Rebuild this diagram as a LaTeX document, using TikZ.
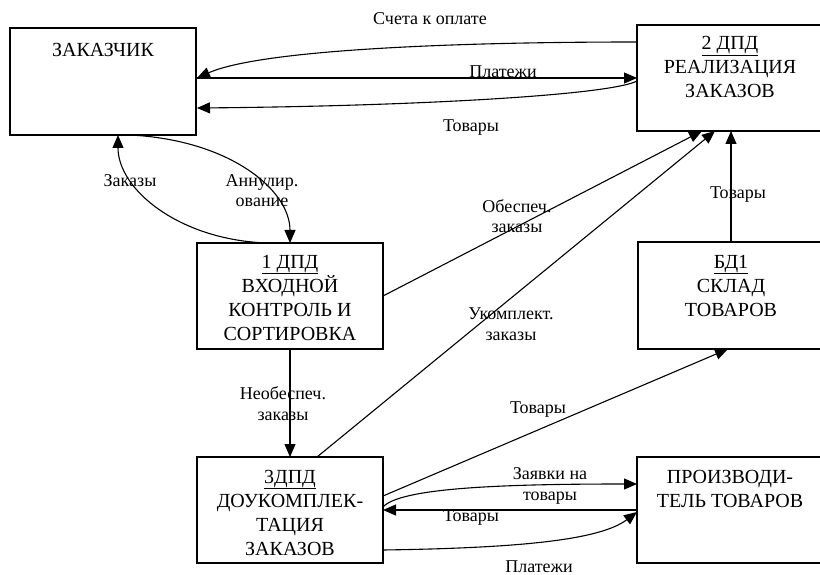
\documentclass[tikz,border=0pt]{standalone}
\usepackage{fontspec}
\setmainfont{Liberation Serif}
\usetikzlibrary{arrows.meta,calc}

\begin{document}
\begin{tikzpicture}[x=1pt,y=-1pt,
  box/.style={draw, line width=1.2pt, minimum width=186pt, inner sep=0pt,
    outer sep=0pt, anchor=north west},
  % multi-line captions are placed by the baseline of their last line
  boxtext/.style={anchor=base, align=center, inner sep=0pt,
    font=\fontsize{20}{24}\selectfont},
  lbl/.style={anchor=base, align=center, inner sep=0pt,
    font=\fontsize{18}{20.5}\selectfont},
  flow/.style={line width=1.1pt, -{Triangle[length=13pt,width=11pt]}}
]
\useasboundingbox (0,0) rectangle (820,575);

% process, store and external-entity boxes
\node[box, minimum height=107pt] (zak)   at (10,28)   {};
\node[box, minimum height=106pt] (real)  at (637,25)  {};
\node[box, minimum height=106pt] (ent)   at (197,243) {};
\node[box, minimum height=107pt] (sklad) at (638,242) {};
\node[box, minimum height=106pt] (comp)  at (197,457) {};
\node[box, minimum height=106pt] (prod)  at (637,457) {};

% box captions
\node[boxtext] (zakT)   at ($(zak.north)+(0,29)$)   {ЗАКАЗЧИК};
\node[boxtext] (realT)  at ($(real.north)+(0,73)$)  {\underline{2 ДПД}\\РЕАЛИЗАЦИЯ\\ЗАКАЗОВ};
\node[boxtext] (entT)   at ($(ent.north)+(0,97)$)   {\underline{1 ДПД}\\ВХОДНОЙ\\КОНТРОЛЬ И\\СОРТИРОВКА};
\node[boxtext] (skladT) at ($(sklad.north)+(0,74)$) {\underline{БД1}\\СКЛАД\\ТОВАРОВ};
\node[boxtext] (compT)  at ($(comp.north)+(0,98)$)  {\underline{3ДПД}\\ДОУКОМПЛЕК-\\ТАЦИЯ\\ЗАКАЗОВ};
\node[boxtext] (prodT)  at ($(prod.north)+(0,50)$)  {ПРОИЗВОДИ-\\ТЕЛЬ ТОВАРОВ};

% flows between the customer and order fulfilment
\draw[flow] ($(real.north west)+(0,17)$) .. controls +(-187,0) and +(63,-28) .. ($(zak.north east)+(1,50)$);
\draw[flow] ($(zak.north east)+(0,50)$) -- ($(real.north west)+(0,53)$);
\draw[flow] ($(real.north west)+(0,56)$) .. controls +(-27,14) and +(223,-2) .. ($(zak.north east)+(1,80)$);

% customer <-> input control
\draw[flow] ($(ent.north west)+(70,0)$) .. controls +(-87,-3) and +(0,55) .. ($(zak.south west)+(108,0)$);
\draw[flow] ($(zak.south west)+(120,0)$) .. controls +(100,5) and +(0,-53) .. (ent.north);

% flows into order fulfilment
\draw[flow] (ent.east) -- ($(real.south west)+(65,0)$);
\draw[flow] ($(comp.north west)+(120,0)$) -- ($(real.south west)+(78,0)$);
\draw[flow] (sklad.north) -- (sklad.north |- real.south);

% input control -> completion, completion -> warehouse
\draw[flow] (ent.south) -- (comp.north);
\draw[flow] ($(comp.north east)+(0,39)$) -- ($(sklad.south west)+(90,0)$);

% completion <-> manufacturer
\draw[flow] ($(comp.north east)+(0,50)$) .. controls +(17,-19) and +(-137,0) .. ($(prod.north west)+(0,27)$);
\draw[flow] ($(prod.north west)+(0,53)$) -- ($(comp.north east)+(0,53)$);
\draw[flow] ($(comp.north east)+(0,93)$) .. controls +(137,-2) and +(-37,28) .. ($(prod.north west)+(0,55)$);

% flow labels
\node[lbl] (l1)  at (430,25)  {Счета к оплате};
\node[lbl] (l2)  at (503,78)  {Платежи};
\node[lbl] (l3)  at (471,132) {Товары};
\node[lbl] (l4)  at (130,187) {Заказы};
\node[lbl] (l5)  at (262,207) {Аннулир.\\ование};
\node[lbl] (l6)  at (517,233) {Обеспеч.\\заказы};
\node[lbl] (l7)  at (738,199) {Товары};
\node[lbl] (l8)  at (511,340) {Укомплект.\\заказы};
\node[lbl] (l9)  at (283,420) {Необеспеч.\\заказы};
\node[lbl] (l10) at (538,413) {Товары};
\node[lbl] (l11) at (550,500) {Заявки на\\товары};
\node[lbl] (l12) at (471,521) {Товары};
\node[lbl] (l13) at (539,572) {Платежи};
\end{tikzpicture}
\end{document}
